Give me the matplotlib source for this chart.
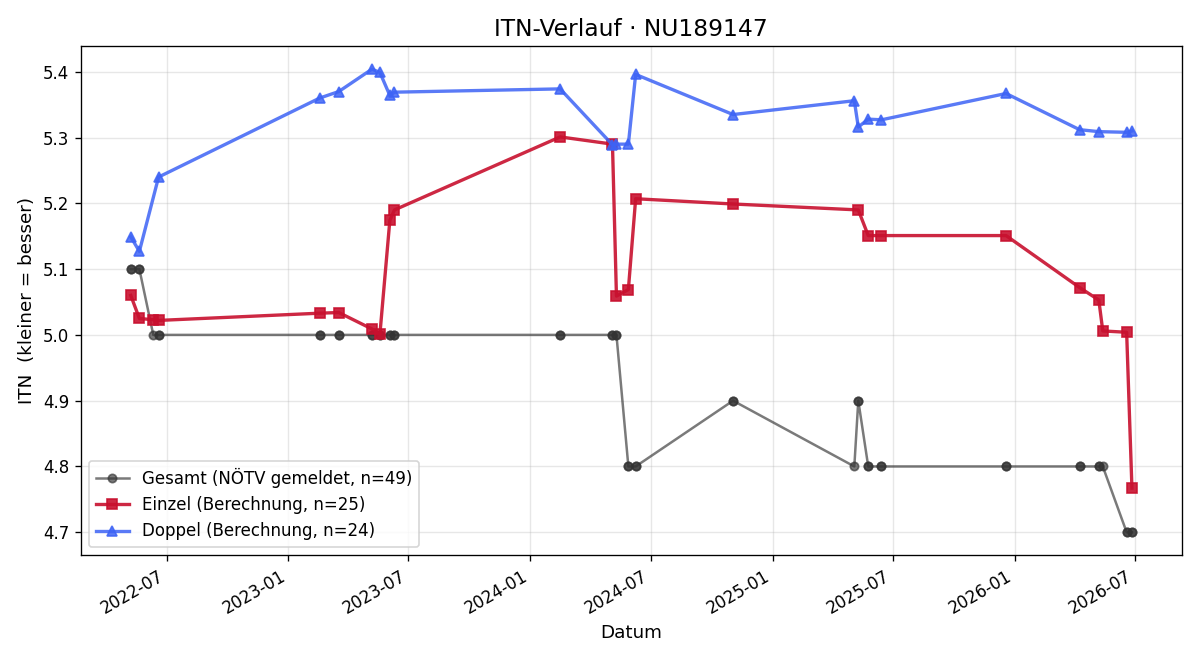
import matplotlib
matplotlib.use("Agg")
import matplotlib.pyplot as plt
import matplotlib.dates as mdates
import pandas as pd

# Einzel (Berechnung)
einzel_dates = ["2022-05-08", "2022-05-21", "2022-06-11", "2022-06-19", "2023-02-17",
                "2023-03-18", "2023-05-07", "2023-05-19", "2023-06-03", "2023-06-10",
                "2024-02-15", "2024-05-04", "2024-05-10", "2024-05-28", "2024-06-08",
                "2024-11-02", "2025-05-10", "2025-05-25", "2025-06-14", "2025-12-19",
                "2026-04-09", "2026-05-08", "2026-05-14", "2026-06-19", "2026-06-27"]
einzel_vals = [5.060, 5.025, 5.023, 5.022, 5.033,
               5.034, 5.009, 5.001, 5.174, 5.190,
               5.301, 5.290, 5.059, 5.069, 5.207,
               5.199, 5.190, 5.151, 5.151, 5.151,
               5.072, 5.053, 5.006, 5.004, 4.767]

# Doppel (Berechnung)
doppel_dates = ["2022-05-08", "2022-05-21", "2022-06-19", "2023-02-17", "2023-03-18",
                "2023-05-07", "2023-05-19", "2023-06-03", "2023-06-10", "2024-02-15",
                "2024-05-04", "2024-05-10", "2024-05-28", "2024-06-08", "2024-11-02",
                "2025-05-04", "2025-05-10", "2025-05-25", "2025-06-14", "2025-12-19",
                "2026-04-09", "2026-05-08", "2026-06-19", "2026-06-27"]
doppel_vals = [5.149, 5.127, 5.240, 5.360, 5.370,
               5.404, 5.399, 5.364, 5.369, 5.374,
               5.289, 5.290, 5.290, 5.396, 5.335,
               5.356, 5.316, 5.328, 5.327, 5.367,
               5.312, 5.309, 5.308, 5.310]

# Gesamt (NÖTV gemeldet) – value per match date
gesamt_by_date = {
    "2022-05-08": 5.1, "2022-05-21": 5.1, "2022-06-11": 5.0, "2022-06-19": 5.0,
    "2023-02-17": 5.0, "2023-03-18": 5.0, "2023-05-07": 5.0, "2023-05-19": 5.0,
    "2023-06-03": 5.0, "2023-06-10": 5.0, "2024-02-15": 5.0, "2024-05-04": 5.0,
    "2024-05-10": 5.0, "2024-05-28": 4.8, "2024-06-08": 4.8, "2024-11-02": 4.9,
    "2025-05-04": 4.8, "2025-05-10": 4.9, "2025-05-25": 4.8, "2025-06-14": 4.8,
    "2025-12-19": 4.8, "2026-04-09": 4.8, "2026-05-08": 4.8, "2026-05-14": 4.8,
    "2026-06-19": 4.7, "2026-06-27": 4.7,
}
gesamt_dates = sorted(einzel_dates + doppel_dates)
gesamt_vals = [gesamt_by_date[d] for d in gesamt_dates]

plt.rcParams["font.family"] = ["DejaVu Sans"]

fig, ax = plt.subplots(figsize=(10, 5.5), dpi=120)

ax.plot(pd.to_datetime(gesamt_dates), gesamt_vals, marker="o", color="#333333",
        alpha=0.65, linewidth=1.5, markersize=5,
        label=f"Gesamt (NÖTV gemeldet, n={len(gesamt_vals)})")
ax.plot(pd.to_datetime(einzel_dates), einzel_vals, marker="s", color="#c8102e",
        alpha=0.9, linewidth=2, markersize=6,
        label=f"Einzel (Berechnung, n={len(einzel_vals)})")
ax.plot(pd.to_datetime(doppel_dates), doppel_vals, marker="^", color="#3d63f5",
        alpha=0.85, linewidth=2, markersize=6,
        label=f"Doppel (Berechnung, n={len(doppel_vals)})")

ax.set_title("ITN-Verlauf · NU189147", fontsize=14)
ax.set_xlabel("Datum", fontsize=11)
ax.set_ylabel("ITN  (kleiner = besser)", fontsize=11)
ax.tick_params(labelsize=10)
ax.grid(True, alpha=0.3)
ax.xaxis.set_major_locator(mdates.MonthLocator(bymonth=[1, 7]))
ax.xaxis.set_major_formatter(mdates.DateFormatter("%Y-%m"))
ax.legend(loc="lower left", fontsize=10)
fig.autofmt_xdate()
fig.tight_layout()
fig.savefig("out.png", dpi=120)
